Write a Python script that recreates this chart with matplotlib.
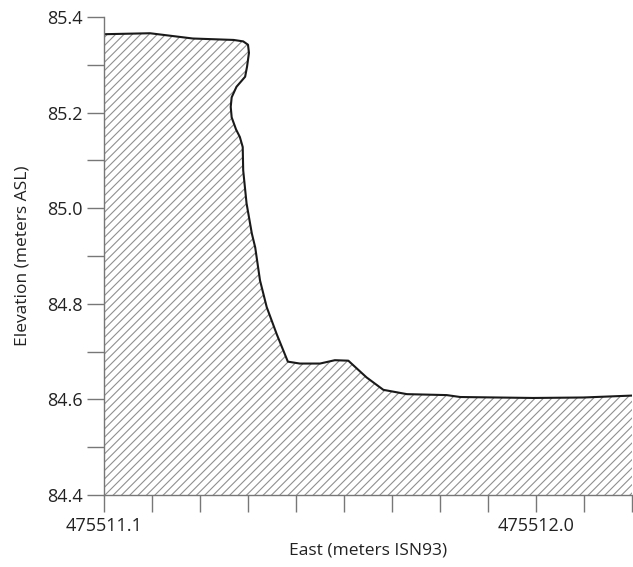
import matplotlib.pyplot as plt
from matplotlib.ticker import FixedLocator, NullFormatter

# profile (East, Elevation)
east = [475511.100, 475511.196, 475511.285, 475511.370, 475511.390, 475511.400,
        475511.402, 475511.398, 475511.394, 475511.376, 475511.366, 475511.364,
        475511.366, 475511.375, 475511.383, 475511.389, 475511.390, 475511.397,
        475511.408, 475511.415, 475511.425, 475511.439, 475511.460, 475511.483,
        475511.508, 475511.550, 475511.581, 475511.609, 475511.647, 475511.682,
        475511.731, 475511.814, 475511.842, 475511.994, 475512.099, 475512.200]
elev = [85.364, 85.366, 85.355, 85.352, 85.349, 85.342,
        85.325, 85.296, 85.275, 85.254, 85.232, 85.212,
        85.190, 85.165, 85.149, 85.128, 85.079, 85.010,
        84.947, 84.918, 84.849, 84.793, 84.736, 84.679,
        84.675, 84.675, 84.682, 84.681, 84.646, 84.620,
        84.611, 84.609, 84.605, 84.603, 84.604, 84.608]

x_major = [475511.1, 475512.0]
x_major_labels = ["475511.1", "475512.0"]
x_minor = [475511.1 + 0.1 * i for i in range(12)]
y_major = [84.4, 84.6, 84.8, 85.0, 85.2, 85.4]
y_minor = [84.5, 84.7, 84.9, 85.1, 85.3]
base = 84.4

plt.rcParams['font.family'] = ['Open Sans', 'DejaVu Sans']
plt.rcParams['hatch.linewidth'] = 0.8
plt.rcParams['hatch.color'] = '#909090'

fig = plt.figure(figsize=(6.33, 5.67), dpi=100)
ax = fig.add_axes([104 / 633, 1 - 495 / 567, 528 / 633, 478 / 567])

# hatched ground polygon
px = east + [east[-1], east[0]]
py = elev + [base, base]
ax.fill(px, py, facecolor='white', edgecolor='#909090', hatch='////', linewidth=0)
ax.plot(east, elev, color='#1a1a1a', linewidth=1.5, solid_joinstyle='round')

ax.set_xlim(475511.1, 475512.2)
ax.set_ylim(84.4, 85.4)

ax.set_xticks(x_major)
ax.set_xticklabels(x_major_labels)
ax.xaxis.set_minor_locator(FixedLocator(x_minor))
ax.set_yticks(y_major)
ax.set_yticklabels([f"{v:.1f}" for v in y_major])
ax.yaxis.set_minor_locator(FixedLocator(y_minor))
ax.yaxis.set_minor_formatter(NullFormatter())

for s in ['top', 'right']:
    ax.spines[s].set_visible(False)
for s in ['left', 'bottom']:
    ax.spines[s].set_color('#777777')
    ax.spines[s].set_linewidth(1.0)

ax.tick_params(which='both', direction='out', length=12.5, width=1.0,
               color='#777777', labelsize=13, labelcolor='#222222', pad=3)

ax.set_xlabel("East (meters ISN93)", fontsize=12.5, color='#222222', labelpad=6)
ax.set_ylabel("Elevation (meters ASL)", fontsize=12.5, color='#222222', labelpad=12)

fig.savefig('out.png', dpi=100)
